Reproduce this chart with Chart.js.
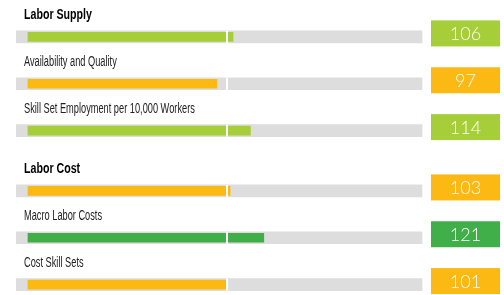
<!DOCTYPE html>
<html>
<head>
<meta charset="utf-8">
<script src="https://cdn.jsdelivr.net/npm/chart.js@4.4.1/dist/chart.umd.min.js"></script>
<style>
  html, body { margin: 0; padding: 0; background: #fff; overflow: hidden; }
  body { width: 504px; height: 295px; position: relative; }
  .section { position: absolute; left: 0; width: 504px; height: 154px; }
  #supply { top: 0; }
  #cost { top: 154px; }
</style>
</head>
<body>
<div class="section" id="supply"><canvas id="supply-chart"></canvas></div>
<div class="section" id="cost"><canvas id="cost-chart"></canvas></div>
<script>
// first row of each block is the block header (bold)
const supplyLabels = ['Labor Supply', 'Availability and Quality', 'Skill Set Employment per 10,000 Workers'];
const supplyScores = [106, 97, 114];
const supplyBars = [102.8, 94.7, 111.5];

const costLabels = ['Labor Cost', 'Macro Labor Costs', 'Cost Skill Sets'];
const costScores = [103, 121, 101];
const costBars = [101.3, 118.2, 99.2];

const TRACK_MIN = -6;
const TRACK_MAX = 197.5;
const BOX_MIN = 202;
const AXIS_MAX = 236.6;
const BASELINE = 100;

function scoreColor(score) {
  if (score >= 120) return '#40ae49';
  if (score >= 105) return '#a6ce39';
  return '#fdb913';
}

const rowDecor = {
  id: 'rowDecor',
  afterDatasetsDraw(chart, args, opts) {
    const { ctx, chartArea } = chart;
    const x = chart.scales.x;
    const y = chart.scales.y;
    const scores = opts.scores;
    const labels = chart.data.labels;

    labels.forEach((label, i) => {
      const cy = y.getPixelForValue(i);

      // white tick at index 100
      ctx.save();
      ctx.fillStyle = '#ffffff';
      ctx.fillRect(Math.round(x.getPixelForValue(BASELINE)) - 1, cy - 6, 2, 12);
      ctx.restore();

      // value box
      const bx = x.getPixelForValue(BOX_MIN);
      const by = cy - 3.5;
      ctx.save();
      ctx.fillStyle = scoreColor(scores[i]);
      ctx.fillRect(bx, by - 13, chartArea.right - bx, 26);
      ctx.fillStyle = '#ffffff';
      ctx.font = '300 18px Lato, "Liberation Sans", sans-serif';
      ctx.textAlign = 'center';
      ctx.textBaseline = 'middle';
      ctx.fillText(String(scores[i]), (bx + chartArea.right) / 2, by + 1);
      ctx.restore();

      // row label, condensed
      const header = i === 0;
      ctx.save();
      ctx.translate(x.getPixelForValue(TRACK_MIN) + 8, cy - 18);
      ctx.scale(header ? 0.76 : 0.66, 1);
      ctx.fillStyle = header ? '#000000' : '#222222';
      ctx.font = (header ? 'bold ' : '') + '14px "Liberation Sans", Arial, sans-serif';
      ctx.textAlign = 'left';
      ctx.textBaseline = 'alphabetic';
      ctx.fillText(label, 0, 0);
      ctx.restore();
    });
  }
};

function buildChart(canvasId, labels, scores, bars) {
  const ctx = document.getElementById(canvasId).getContext('2d');
  return new Chart(ctx, {
    type: 'bar',
    data: {
      labels,
      datasets: [
        {
          data: bars.map(v => [0, v]),
          backgroundColor: scores.map(scoreColor),
          barThickness: 9,
          grouped: false
        },
        {
          data: labels.map(() => [TRACK_MIN, TRACK_MAX]),
          backgroundColor: '#dddddd',
          barThickness: 12,
          grouped: false
        }
      ]
    },
    options: {
      indexAxis: 'y',
      responsive: true,
      maintainAspectRatio: false,
      animation: false,
      layout: { padding: { left: 16, right: 4, top: 13.5, bottom: 0 } },
      plugins: {
        legend: { display: false },
        tooltip: { enabled: false },
        rowDecor: { scores }
      },
      scales: {
        x: { type: 'linear', min: TRACK_MIN, max: AXIS_MAX, display: false },
        y: { display: false }
      }
    },
    plugins: [rowDecor]
  });
}

buildChart('supply-chart', supplyLabels, supplyScores, supplyBars);
buildChart('cost-chart', costLabels, costScores, costBars);
</script>
</body>
</html>
